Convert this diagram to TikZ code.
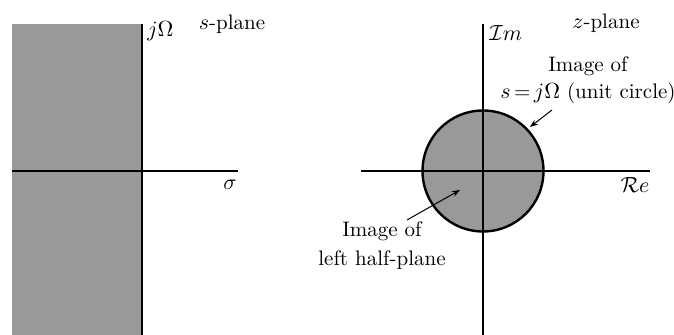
\documentclass[tikz,border=0pt]{standalone}
\usetikzlibrary{arrows.meta}
\begin{document}
\begin{tikzpicture}[x=0.5pt,y=-0.5pt,
  axis/.style={line width=0.8pt},
  region/.style={fill=black!40},
  lbl/.style={font=\fontsize{10.5}{12.5}\selectfont, inner sep=0pt},
  ptr/.style={-{Stealth[length=4pt,width=3pt]}, line width=0.5pt}]
\useasboundingbox (0,0) rectangle (674,335);
% s-plane
\fill[region] (12,24) rectangle (142,335);
\draw[axis] (142,24) -- (142,335);
\draw[axis] (12,171) -- (238,171);
\node[lbl, anchor=west] (jO) at (147,31) {$j\Omega$};
\node[lbl] (sp) at (232,24) {$s$-plane};
\node[lbl] (sig) at (230,185) {$\sigma$};
% z-plane
\filldraw[region, line width=1.2pt] (483,171) circle (60.5);
\draw[axis] (483,24) -- (483,335);
\draw[axis] (361,171) -- (650,171);
\node[lbl, anchor=west] (Im) at (489,33) {$\mathcal{I}m$};
\node[lbl] (zp) at (606,23) {$z$-plane};
\node[lbl] (Re) at (635,185) {$\mathcal{R}e$};
\node[lbl, align=center] (uc) at (588,80) {Image of\\[1pt]$s$\,=\,$j\Omega$ (unit circle)};
\node[lbl, align=center] (lh) at (382,246) {Image of\\[2pt]left half-plane};
\coordinate (uct) at (530,127);
\coordinate (lht) at (460,190);
\draw[ptr] (552,110) -- (uct);
\draw[ptr] (407,220) -- (lht);
\end{tikzpicture}
\end{document}
